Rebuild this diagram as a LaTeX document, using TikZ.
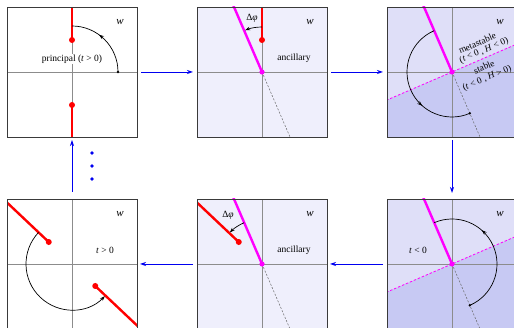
\documentclass[tikz,border=0pt]{standalone}
\usepackage{fontspec}
\setmainfont{Liberation Serif}
\usetikzlibrary{arrows.meta,decorations.markings,calc}
\definecolor{bgA}{HTML}{EFEFFC}
\definecolor{bgMeta}{HTML}{DFDFF8}
\definecolor{bgStable}{HTML}{C7C9F3}
\definecolor{axisgray}{HTML}{8C8C8C}
\definecolor{framegray}{HTML}{3A3A3A}
\definecolor{mag}{HTML}{FF00FF}
\definecolor{flowblue}{HTML}{0000F0}
\tikzset{
  panel/.style={minimum size=130pt, inner sep=0pt, outer sep=0pt},
  frame/.style={draw=framegray, line width=0.9pt},
  axis/.style={draw=axisgray, line width=0.7pt},
  cut/.style={draw=red, line width=2.4pt},
  ancline/.style={draw=mag, line width=2.4pt},
  wall/.style={draw=mag, line width=0.8pt, dash pattern=on 2.5pt off 1.8pt},
  ghost/.style={draw=black!60, line width=0.5pt, dash pattern=on 2pt off 1.6pt},
  turn/.style={draw=black, line width=0.7pt},
  midarrow/.style={postaction={decorate}, decoration={markings, mark=at position #1 with {\arrow{Stealth[length=5pt,width=3.6pt]}}}},
  endarrow/.style={-{Stealth[length=5pt,width=3.6pt]}},
  flow/.style={draw=flowblue, line width=0.8pt, -{Stealth[length=6pt,width=4pt]}},
  lab/.style={font=\fontsize{9.5}{10}\selectfont, inner sep=1pt},
  rlab/.style={font=\fontsize{9.3}{10}\selectfont, inner sep=0pt, rotate=23.3},
  wlab/.style={font=\fontsize{11}{12}\selectfont\itshape, inner sep=0pt},
}
\begin{document}
\begin{tikzpicture}[x=1pt,y=1pt]
\useasboundingbox (0,0) rectangle (514,328);
% panels
\node[panel, fill=white] (p1) at (72,256) {};
\node[panel, fill=bgA] (p2) at (262,256) {};
\node[panel, fill=bgMeta] (p3) at (452,256) {};
\node[panel, fill=white] (p4) at (72,64) {};
\node[panel, fill=bgA] (p5) at (262,64) {};
\node[panel, fill=bgMeta] (p6) at (452,64) {};
\coordinate (c1) at (72,256);
\coordinate (c2) at (262,256);
\coordinate (c3) at (452,256);
\coordinate (c4) at (72,64);
\coordinate (c5) at (262,64);
\coordinate (c6) at (452,64);

% ---------- panel 1 ----------
\draw[axis] (p1.west) -- (p1.east);
\draw[axis] (p1.south) -- (p1.north);
\coordinate (r1a) at (72,288);
\coordinate (r1b) at (72,223);
\draw[cut] (p1.north) -- (r1a);
\draw[cut] (p1.south) -- (r1b);
\fill[red] (r1a) circle (3pt);
\fill[red] (r1b) circle (3pt);
\node[lab, fill=white] (princ) at (72,269) {principal (\textit{t} > 0)};
\draw[turn, midarrow=0.6] ($(c1)+(0:46)$) coordinate (s1) arc[start angle=0, end angle=90, radius=46];
\fill (s1) circle (1.3pt);
\node[wlab] (w1) at ($(c1)+(48,50)$) {w};
\draw[frame] (p1.south west) rectangle (p1.north east);

% ---------- panel 2 ----------
\begin{scope}
\clip (p2.south west) rectangle (p2.north east);
\draw[axis] (p2.west) -- (p2.east);
\draw[axis] (p2.south) -- (p2.north);
\draw[ghost] (c2) -- ++(293.3:90);
\draw[ancline] (c2) -- ++(113.3:90);
\end{scope}
\coordinate (r2) at (262,288);
\draw[cut] (p2.north) -- (r2);
\fill[red] (r2) circle (3pt);
\fill[mag] (c2) circle (2.6pt);
\draw[turn, endarrow] ($(c2)+(90:45)$) arc[start angle=90, end angle=112, radius=45];
\node[lab] (dphi2) at (252,310) {Δ\textit{φ}};
\node[lab] (anc2) at ($(c2)+(32,14)$) {ancillary};
\node[wlab] (w2) at ($(c2)+(48,50)$) {w};
\draw[frame] (p2.south west) rectangle (p2.north east);

% ---------- panel 3 ----------
\begin{scope}
\clip (p3.south west) rectangle (p3.north east);
\begin{scope}[shift={(c3)}, rotate=23.3]
\fill[bgStable] (-200,0) rectangle (200,-200);
\end{scope}
\draw[axis] (p3.west) -- (p3.east);
\draw[axis] (p3.south) -- (p3.north);
\draw[ghost] (c3) -- ++(293.3:90);
\draw[wall] ($(c3)+(23.3:120)$) -- ($(c3)+(203.3:120)$);
\draw[ancline] (c3) -- ++(113.3:90);
\end{scope}
\fill[mag] (c3) circle (2.6pt);
\draw[turn, midarrow=0.64] ($(c3)+(113.3:45)$) arc[start angle=113.3, end angle=293.3, radius=45] coordinate (e3);
\fill (e3) circle (1.3pt);
\begin{scope}[shift={(c3)}, rotate=23.3]
\node[rlab] (meta1) at (34.6,16.5) {metastable};
\node[rlab] (meta2) at (37.8,6.8) {(\textit{t} < 0 , \textit{H} < 0)};
\node[rlab] (stab1) at (31.4,-7.9) {stable};
\node[rlab] (stab2) at (29.7,-19.7) {(\textit{t} < 0 , \textit{H} > 0)};
\end{scope}
\node[wlab] (w3) at ($(c3)+(48,50)$) {w};
\draw[frame] (p3.south west) rectangle (p3.north east);

% ---------- panel 6 (bottom right) ----------
\begin{scope}
\clip (p6.south west) rectangle (p6.north east);
\begin{scope}[shift={(c6)}, rotate=23.3]
\fill[bgStable] (-200,0) rectangle (200,-200);
\end{scope}
\draw[axis] (p6.west) -- (p6.east);
\draw[axis] (p6.south) -- (p6.north);
\draw[ghost] (c6) -- ++(293.3:90);
\draw[wall] ($(c6)+(23.3:120)$) -- ($(c6)+(203.3:120)$);
\draw[ancline] (c6) -- ++(113.3:90);
\end{scope}
\fill[mag] (c6) circle (2.6pt);
\draw[turn, midarrow=0.64] ($(c6)+(-66.7:45)$) coordinate (s6) arc[start angle=-66.7, end angle=113.3, radius=45];
\fill (s6) circle (1.3pt);
\node[lab] (tneg) at ($(c6)+(-34,14)$) {\textit{t} < 0};
\node[wlab] (w6) at ($(c6)+(48,50)$) {w};
\draw[frame] (p6.south west) rectangle (p6.north east);

% ---------- panel 5 (bottom middle) ----------
\begin{scope}
\clip (p5.south west) rectangle (p5.north east);
\draw[axis] (p5.west) -- (p5.east);
\draw[axis] (p5.south) -- (p5.north);
\draw[ghost] (c5) -- ++(293.3:90);
\draw[ancline] (c5) -- ++(113.3:90);
\draw[cut] ($(c5)+(136.6:32)$) coordinate (r5) -- ($(c5)+(136.6:110)$);
\end{scope}
\fill[red] (r5) circle (3pt);
\fill[mag] (c5) circle (2.6pt);
\draw[turn, endarrow] ($(c5)+(113.3:45)$) arc[start angle=113.3, end angle=135.5, radius=45];
\node[lab] (dphi5) at ($(c5)+(-34,49)$) {Δ\textit{φ}};
\node[lab] (anc5) at ($(c5)+(32,14)$) {ancillary};
\node[wlab] (w5) at ($(c5)+(48,50)$) {w};
\draw[frame] (p5.south west) rectangle (p5.north east);

% ---------- panel 4 (bottom left) ----------
\begin{scope}
\clip (p4.south west) rectangle (p4.north east);
\draw[axis] (p4.west) -- (p4.east);
\draw[axis] (p4.south) -- (p4.north);
\draw[cut] ($(c4)+(136.6:32)$) coordinate (r4a) -- ($(c4)+(136.6:110)$);
\draw[cut] ($(c4)+(-43.4:32)$) coordinate (r4b) -- ($(c4)+(-43.4:110)$);
\end{scope}
\fill[red] (r4a) circle (3pt);
\fill[red] (r4b) circle (3pt);
\draw[turn, endarrow] ($(c4)+(136.6:46)$) arc[start angle=136.6, end angle=315.5, radius=46];
\node[lab] (tpos) at ($(c4)+(33,14)$) {\textit{t} > 0};
\node[wlab] (w4) at ($(c4)+(48,50)$) {w};
\draw[frame] (p4.south west) rectangle (p4.north east);

% ---------- flow arrows ----------
\draw[flow, shorten <=4pt, shorten >=4pt] (p1) -- (p2);
\draw[flow, shorten <=4pt, shorten >=4pt] (p2) -- (p3);
\draw[flow, shorten <=3pt, shorten >=6pt] (p3) -- (p6);
\draw[flow, shorten <=4pt, shorten >=3pt] (p6) -- (p5);
\draw[flow, shorten <=4pt, shorten >=3pt] (p5) -- (p4);
\draw[flow, shorten <=7pt, shorten >=3pt] (p4) -- (p1);
\fill[flowblue] (92,175) circle (1.9pt) coordinate (d1);
\fill[flowblue] (92,162) circle (1.9pt) coordinate (d2);
\fill[flowblue] (92,149) circle (1.9pt) coordinate (d3);
\end{tikzpicture}
\end{document}
